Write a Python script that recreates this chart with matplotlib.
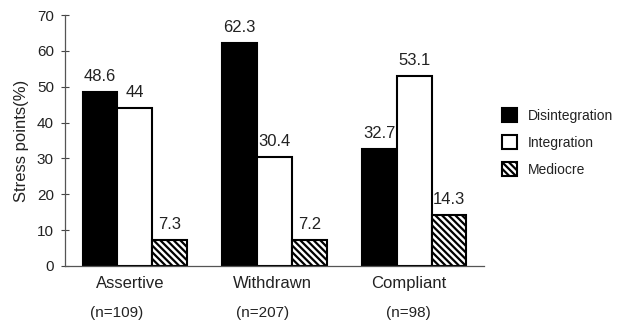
import matplotlib
matplotlib.use("Agg")
import matplotlib.pyplot as plt
import numpy as np

categories = ["Assertive", "Withdrawn", "Compliant"]
sample_sizes = ["(n=109)", "(n=207)", "(n=98)"]
disintegration = [48.6, 62.3, 32.7]
integration = [44, 30.4, 53.1]
mediocre = [7.3, 7.2, 14.3]
value_labels = [["48.6", "62.3", "32.7"], ["44", "30.4", "53.1"], ["7.3", "7.2", "14.3"]]
series_names = ["Disintegration", "Integration", "Mediocre"]

plt.rcParams["font.family"] = ["Liberation Sans", "DejaVu Sans"]
plt.rcParams["hatch.linewidth"] = 1.6

fig = plt.figure(figsize=(6.18, 3.23), dpi=100)
ax = fig.add_axes([0.1052, 0.1765, 0.678, 0.777])

x = np.arange(len(categories))
w = 0.249
styles = [
    dict(facecolor="black", edgecolor="black", hatch=None),
    dict(facecolor="white", edgecolor="black", hatch=None),
    dict(facecolor="white", edgecolor="black", hatch="\\\\\\\\\\"),
]
handles = []
for i, (vals, st) in enumerate(zip([disintegration, integration, mediocre], styles)):
    bars = ax.bar(x + (i - 1) * w, vals, width=w, linewidth=1.5,
                  label=series_names[i], **st)
    handles.append(bars)
    for b, v, lab in zip(bars, vals, value_labels[i]):
        ax.text(b.get_x() + b.get_width() / 2, v + 2.2, lab,
                ha="center", va="bottom", fontsize=12, color="#222222")

ax.set_xlim(-0.5, 2.5)
ax.set_ylim(0, 70)
ax.set_yticks(np.arange(0, 71, 10))
ax.tick_params(axis="y", labelsize=11, direction="inout", length=6, width=0.8,
               colors="#444444", labelcolor="#222222", pad=5)
ax.set_xticks([])
for s in ["top", "right"]:
    ax.spines[s].set_visible(False)
for s in ["left", "bottom"]:
    ax.spines[s].set_color("#555555")
    ax.spines[s].set_linewidth(0.9)

ax.set_ylabel("Stress points(%)", fontsize=12, color="#222222", labelpad=6)

cat_offsets = [-0.035, -0.012, -0.04]
n_offsets = [-0.13, -0.085, -0.04]
for xi, name, n, co, no in zip(x, categories, sample_sizes, cat_offsets, n_offsets):
    ax.text(xi + co, -4.8, name, ha="center", va="center", fontsize=12, color="#222222")
    ax.text(xi + no, -13.0, n, ha="center", va="center", fontsize=11, color="#222222")

leg = fig.legend(handles=handles, labels=series_names, loc="upper left",
                 bbox_to_anchor=(0.803, 0.682), frameon=False, fontsize=10,
                 handlelength=1.12, handleheight=1.12, handletextpad=0.75,
                 labelspacing=0.9, borderaxespad=0.0)
for t in leg.get_texts():
    t.set_color("#222222")

fig.savefig("out.png", dpi=100)
